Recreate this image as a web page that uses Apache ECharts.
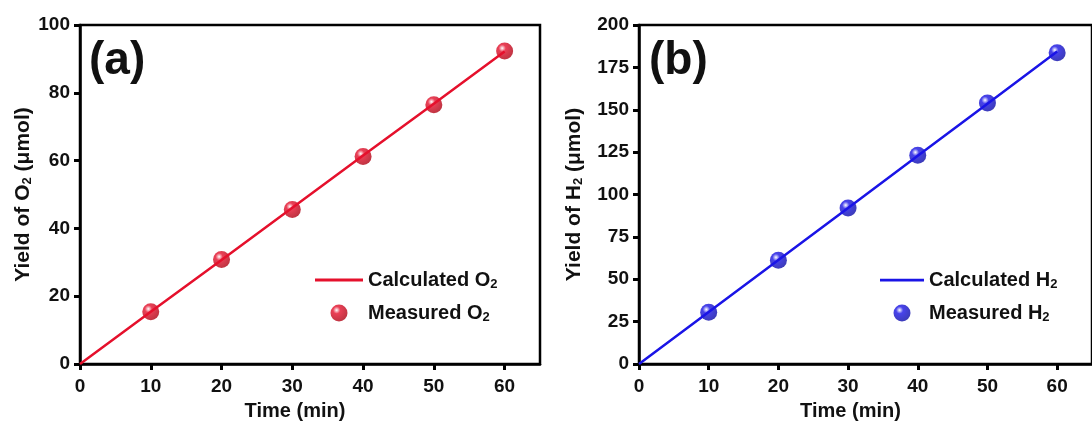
<!DOCTYPE html>
<html><head><meta charset="utf-8">
<script src="https://cdn.jsdelivr.net/npm/echarts@6/dist/echarts.min.js"></script>
<style>html,body{margin:0;padding:0;background:#fff}#c{width:1092px;height:426px}</style>
</head><body><div id="c"></div>
<script>
// Data
const timeTicks = [0, 10, 20, 30, 40, 50, 60];
const calcTime = [0, 10, 20, 30, 40, 50, 60];
const calcO2 = [0, 15.4, 30.7, 46.1, 61.5, 76.8, 92.2];
const measTime = [10, 20, 30, 40, 50, 60];
const measO2 = [15.4, 30.8, 45.6, 61.2, 76.5, 92.3];
const calcH2 = [0, 30.7, 61.4, 92.1, 122.9, 153.6, 184.3];
const measH2 = [30.5, 61.2, 92.0, 123.2, 154.0, 183.6];
const yTicksA = [0, 20, 40, 60, 80, 100];
const yTicksB = [0, 25, 50, 75, 100, 125, 150, 175, 200];

const FONT = '"Liberation Sans", Arial, sans-serif';
const RED = '#e5102c', BLUE = '#1a14e6';
function sphere(c, dark) {
  return {type:'radial', x:0.36, y:0.33, r:0.75, colorStops:[
    {offset:0, color:'#ffffff'}, {offset:0.28, color:c}, {offset:1, color:dark}]};
}
const subRich = {sub:{fontSize:13, verticalAlign:'bottom', padding:[9,0,0,0], fontWeight:'bold', fontFamily:FONT, color:'#111'}};

function xAx(gi) {
  return {gridIndex:gi, type:'value', min:0, max:65, interval:10,
    name:'Time (min)', nameLocation:'middle', nameGap:37,
    nameTextStyle:{fontFamily:FONT, fontWeight:'bold', fontSize:20, color:'#111', padding:[0,30,0,0]},
    axisLine:{show:true, onZero:false, lineStyle:{color:'#000', width:2.5}},
    axisTick:{show:true, inside:false, length:6, lineStyle:{width:3, color:'#000'}, customValues:timeTicks},
    axisLabel:{fontFamily:FONT, fontWeight:'bold', fontSize:19, color:'#111', margin:13, customValues:timeTicks},
    splitLine:{show:false}};
}
function yAx(gi, max, interval, ticks, gas, gap) {
  return {gridIndex:gi, type:'value', min:0, max:max, interval:interval,
    name:'Yield of ' + gas + '{sub|2} (μmol)', nameLocation:'middle', nameGap:gap, nameRotate:90,
    nameTextStyle:{fontFamily:FONT, fontWeight:'bold', fontSize:21, color:'#111', rich:subRich},
    axisLine:{show:true, onZero:false, lineStyle:{color:'#000', width:2.5}},
    axisTick:{show:true, inside:false, length:6, lineStyle:{width:3, color:'#000'}, customValues:ticks},
    axisLabel:{fontFamily:FONT, fontWeight:'bold', fontSize:19, color:'#111', margin:10, customValues:ticks},
    splitLine:{show:false}};
}
const zip = (a,b) => a.map((v,i)=>[v,b[i]]);
const lineIcon = 'path://M0 0 H48 V3 H0 Z';
const legendText = {fontFamily:FONT, fontWeight:'bold', fontSize:20, color:'#111', rich:subRich};

const chart = echarts.init(document.getElementById('c'), null, {renderer:'canvas'});
chart.setOption({
  animation:false,
  backgroundColor:'#fff',
  grid:[
    {left:80, top:25, width:460, height:340, show:true, borderColor:'#000', borderWidth:2.5, backgroundColor:'transparent'},
    {left:639, top:25, width:462, height:340, show:true, borderColor:'#000', borderWidth:2.5, backgroundColor:'transparent'}
  ],
  xAxis:[xAx(0), xAx(1)],
  yAxis:[yAx(0,100,20,yTicksA,'O',44), yAx(1,200,25,yTicksB,'H',54)],
  legend:[
    {left:315, top:270, padding:0, orient:'vertical', itemWidth:48, itemHeight:17, itemGap:12, symbolKeepAspect:true,
     data:[{name:'Calculated O2', icon:lineIcon},{name:'Measured O2', icon:'circle'}],
     formatter: n => n.replace('2','{sub|2}'), textStyle:legendText},
    {left:880, top:270, padding:0, orient:'vertical', itemWidth:44, itemHeight:17, itemGap:12, symbolKeepAspect:true,
     data:[{name:'Calculated H2', icon:lineIcon},{name:'Measured H2', icon:'circle'}],
     formatter: n => n.replace('2','{sub|2}'), textStyle:legendText}
  ],
  graphic:[
    {type:'text', left:89, top:38, style:{text:'(a)', font:'bold 46px ' + FONT, fill:'#111'}},
    {type:'text', left:649, top:38, style:{text:'(b)', font:'bold 46px ' + FONT, fill:'#111'}}
  ],
  series:[
    {name:'Calculated O2', type:'line', xAxisIndex:0, yAxisIndex:0, data:zip(calcTime, calcO2),
     showSymbol:false, symbol:'none', lineStyle:{color:RED, width:2.5}, itemStyle:{color:RED}},
    {name:'Measured O2', type:'scatter', xAxisIndex:0, yAxisIndex:0, data:zip(measTime, measO2),
     symbol:'circle', symbolSize:17, itemStyle:{color:sphere(RED, '#a80010')}},
    {name:'Calculated H2', type:'line', xAxisIndex:1, yAxisIndex:1, data:zip(calcTime, calcH2),
     showSymbol:false, symbol:'none', lineStyle:{color:BLUE, width:2.5}, itemStyle:{color:BLUE}},
    {name:'Measured H2', type:'scatter', xAxisIndex:1, yAxisIndex:1, data:zip(measTime, measH2),
     symbol:'circle', symbolSize:17, itemStyle:{color:sphere(BLUE, '#0a0aa0')}}
  ]
});
</script></body></html>
